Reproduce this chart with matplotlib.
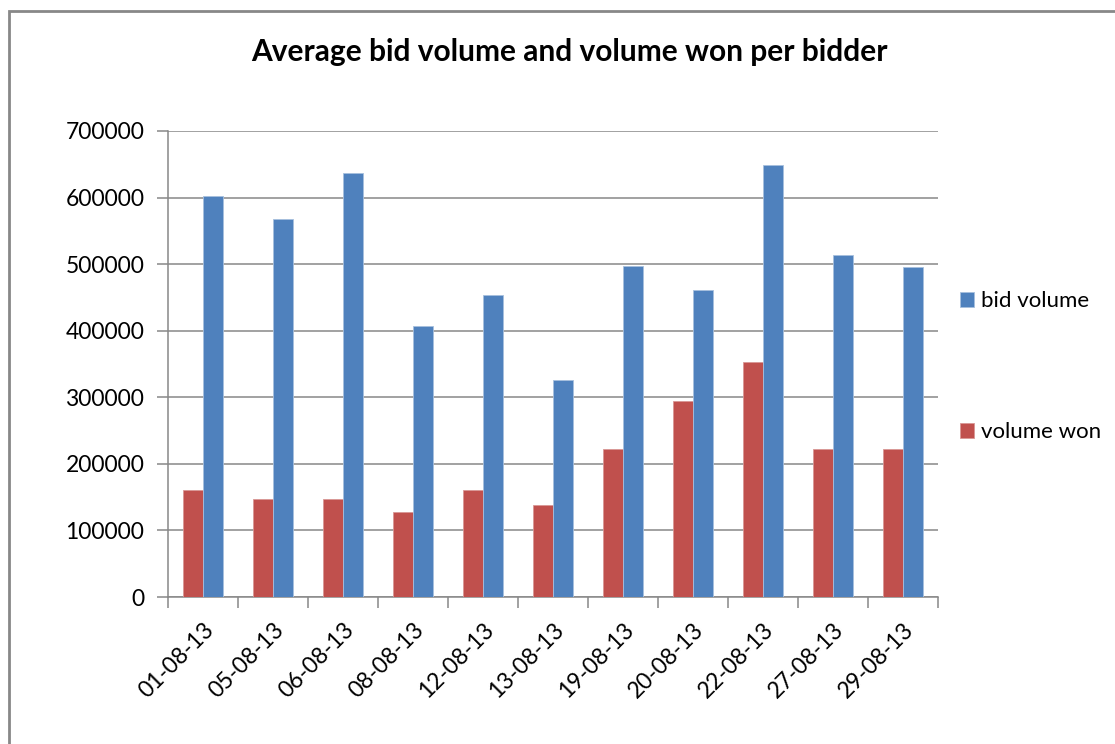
import matplotlib.pyplot as plt
import numpy as np
from matplotlib.patches import Rectangle

dates = ["01-08-13", "05-08-13", "06-08-13", "08-08-13", "12-08-13", "13-08-13",
         "19-08-13", "20-08-13", "22-08-13", "27-08-13", "29-08-13"]
bid_volume = [603000, 568000, 637000, 407000, 453000, 326000,
              497000, 461000, 649000, 514000, 495000]
volume_won = [160000, 147000, 147000, 128000, 160000, 138000,
              222000, 295000, 353000, 222000, 222000]

plt.rcParams['font.family'] = ['Lato', 'DejaVu Sans']

W, H = 1115, 744
fig = plt.figure(figsize=(W / 100, H / 100), dpi=100)
ax = fig.add_axes([168 / W, 1 - 597 / H, (938 - 168) / W, (597 - 131) / H])

x = np.arange(len(dates))
bw = 1 / 3.5
ax.bar(x - bw / 2, volume_won, bw, color="#c0504d", edgecolor="#d99795",
       linewidth=0.6, label="volume won", zorder=3)
ax.bar(x + bw / 2, bid_volume, bw, color="#4f81bd", edgecolor="#a7c0de",
       linewidth=0.6, label="bid volume", zorder=3)

ax.set_xlim(-0.5, len(dates) - 0.5)
ax.set_ylim(0, 700000)
ax.set_yticks(np.arange(0, 700001, 100000))
ax.set_yticklabels([str(v) for v in range(0, 700001, 100000)])
ax.grid(axis="y", color="#888888", linewidth=1.1, zorder=0)

# boundaries get the tick marks, centres get the labels
ax.set_xticks(np.arange(-0.5, len(dates), 1), minor=False)
ax.set_xticklabels([])
ax.set_xticks(x, minor=True)
ax.set_xticklabels(dates, minor=True, rotation=45, ha="right",
                   rotation_mode="anchor", fontsize=16.5)
ax.tick_params(axis="x", which="minor", length=0, pad=16)
ax.tick_params(axis="x", which="major", length=8, color="#888888", width=1.1)
ax.tick_params(axis="y", length=8, color="#888888", width=1.1, labelsize=16.5, pad=9)

for side in ["top", "right"]:
    ax.spines[side].set_visible(False)
for side in ["left", "bottom"]:
    ax.spines[side].set_color("#888888")
    ax.spines[side].set_linewidth(1.1)

handles, labels = ax.get_legend_handles_labels()
leg = fig.legend(handles[::-1], labels[::-1], loc="upper left",
                 bbox_to_anchor=(951 / W, 1 - 282 / H), frameon=False,
                 fontsize=16, handlelength=0.65, handleheight=0.65,
                 handletextpad=0.3, labelspacing=5.0, borderaxespad=0)

fig.text(569 / W, 1 - 52 / H, "Average bid volume and volume won per bidder",
         ha="center", va="center", fontsize=21.5, fontweight="bold")

fig.patches.append(Rectangle((9 / W, -0.1), 1.2, 1.1 - 11 / H,
                             transform=fig.transFigure, fill=False,
                             edgecolor="#888888", linewidth=2))

fig.savefig("out.png", dpi=100)
